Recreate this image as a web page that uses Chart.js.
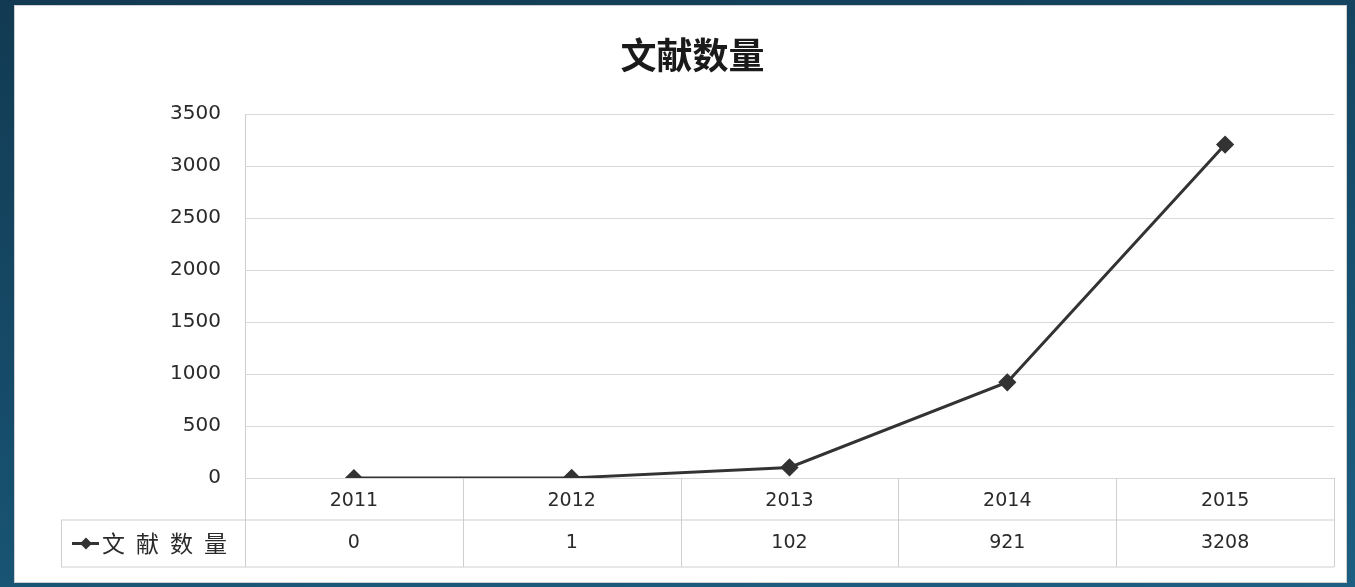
<!DOCTYPE html>
<html>
<head>
<meta charset="utf-8">
<script src="https://cdn.jsdelivr.net/npm/chart.js@4.4.1/dist/chart.umd.min.js"></script>
<style>
  html, body { margin: 0; padding: 0; }
  body {
    width: 1355px; height: 587px; overflow: hidden;
    background: linear-gradient(170deg, #123a52 0%, #17506f 60%, #1d5f82 100%);
  }
  #card {
    position: absolute; left: 14px; top: 5px; width: 1333px; height: 578px;
    background: #fff; border: 1px solid #cfcfcf; box-sizing: border-box;
  }
  #myChart { display: block; }
</style>
</head>
<body>
<div id="card"><canvas id="myChart" width="1331" height="576"></canvas></div>
<script>
const years = ['2011', '2012', '2013', '2014', '2015'];
const counts = [0, 1, 102, 921, 3208];
const seriesName = '文献数量';
const yTicks = [0, 500, 1000, 1500, 2000, 2500, 3000, 3500];

const ctx = document.getElementById('myChart');

// data table under the plot (years row + values row + legend key)
const tablePlugin = {
    id: 'dataTable',
    afterDraw(chart) {
        const c = chart.ctx;
        const area = chart.chartArea;
        const x = chart.scales.x;
        const colW = (area.right - area.left) / years.length;
        const y0 = area.bottom;
        const y1 = y0 + 42;
        const y2 = y0 + 89;
        const legendLeft = 46;

        c.save();
        c.strokeStyle = '#cfcfcf';
        c.lineWidth = 1;
        c.beginPath();
        c.moveTo(legendLeft, y1); c.lineTo(area.right, y1);
        c.moveTo(legendLeft, y2); c.lineTo(area.right, y2);
        for (let i = 0; i <= years.length; i++) {
            const lx = Math.round(area.left + i * colW) + 0.5;
            c.moveTo(lx, y0); c.lineTo(lx, y2);
        }
        c.moveTo(legendLeft + 0.5, y1); c.lineTo(legendLeft + 0.5, y2);
        c.stroke();

        c.fillStyle = '#2a2a2a';
        c.font = '19px "DejaVu Sans"';
        c.textAlign = 'center';
        c.textBaseline = 'middle';
        years.forEach((yr, i) => {
            const cx = x.getPixelForValue(i);
            c.fillText(yr, cx, (y0 + y1) / 2 + 2);
            c.fillText(String(counts[i]), cx, (y1 + y2) / 2);
        });

        // legend key
        const ly = (y1 + y2) / 2;
        c.strokeStyle = '#333';
        c.lineWidth = 3;
        c.beginPath();
        c.moveTo(57, ly); c.lineTo(84, ly);
        c.stroke();
        c.fillStyle = '#333';
        c.beginPath();
        c.moveTo(71, ly - 6); c.lineTo(77, ly); c.lineTo(71, ly + 6); c.lineTo(65, ly);
        c.closePath();
        c.fill();
        c.font = '23px "Noto Sans CJK SC"';
        c.textAlign = 'left';
        c.fillStyle = '#2a2a2a';
        const chars = seriesName.split('');
        chars.forEach((ch, i) => c.fillText(ch, 87 + i * 34, ly));
        c.restore();
    }
};

new Chart(ctx, {
    type: 'line',
    data: {
        labels: years,
        datasets: [{
            label: seriesName,
            data: counts,
            borderColor: '#333',
            backgroundColor: '#333',
            borderWidth: 3,
            pointStyle: 'rectRot',
            pointRadius: 7,
            pointHoverRadius: 7,
            tension: 0
        }]
    },
    options: {
        responsive: false,
        animation: false,
        layout: {
            padding: { left: 36, right: 12, top: 0, bottom: 15 }
        },
        scales: {
            x: {
                offset: true,
                grid: { display: false, drawTicks: false },
                border: { display: false },
                ticks: { display: false },
                afterFit(scale) { scale.height = 89; }
            },
            y: {
                min: 0,
                max: 3500,
                afterBuildTicks(scale) {
                    scale.ticks = yTicks.map(v => ({ value: v }));
                },
                grid: { color: '#d9d9d9', drawTicks: false },
                border: { display: true, color: '#cfcfcf' },
                ticks: {
                    padding: 24,
                    color: '#2a2a2a',
                    font: { family: 'DejaVu Sans', size: 20 },
                    callback: v => String(v)
                },
                afterFit(scale) { scale.width = 194; }
            }
        },
        plugins: {
            legend: { display: false },
            tooltip: { enabled: false },
            title: {
                display: true,
                text: seriesName,
                color: '#1a1a1a',
                font: { family: 'Noto Sans CJK SC', size: 36, weight: 'bold' },
                padding: { top: 28, bottom: 37 }
            }
        }
    },
    plugins: [tablePlugin]
});
</script>
</body>
</html>
